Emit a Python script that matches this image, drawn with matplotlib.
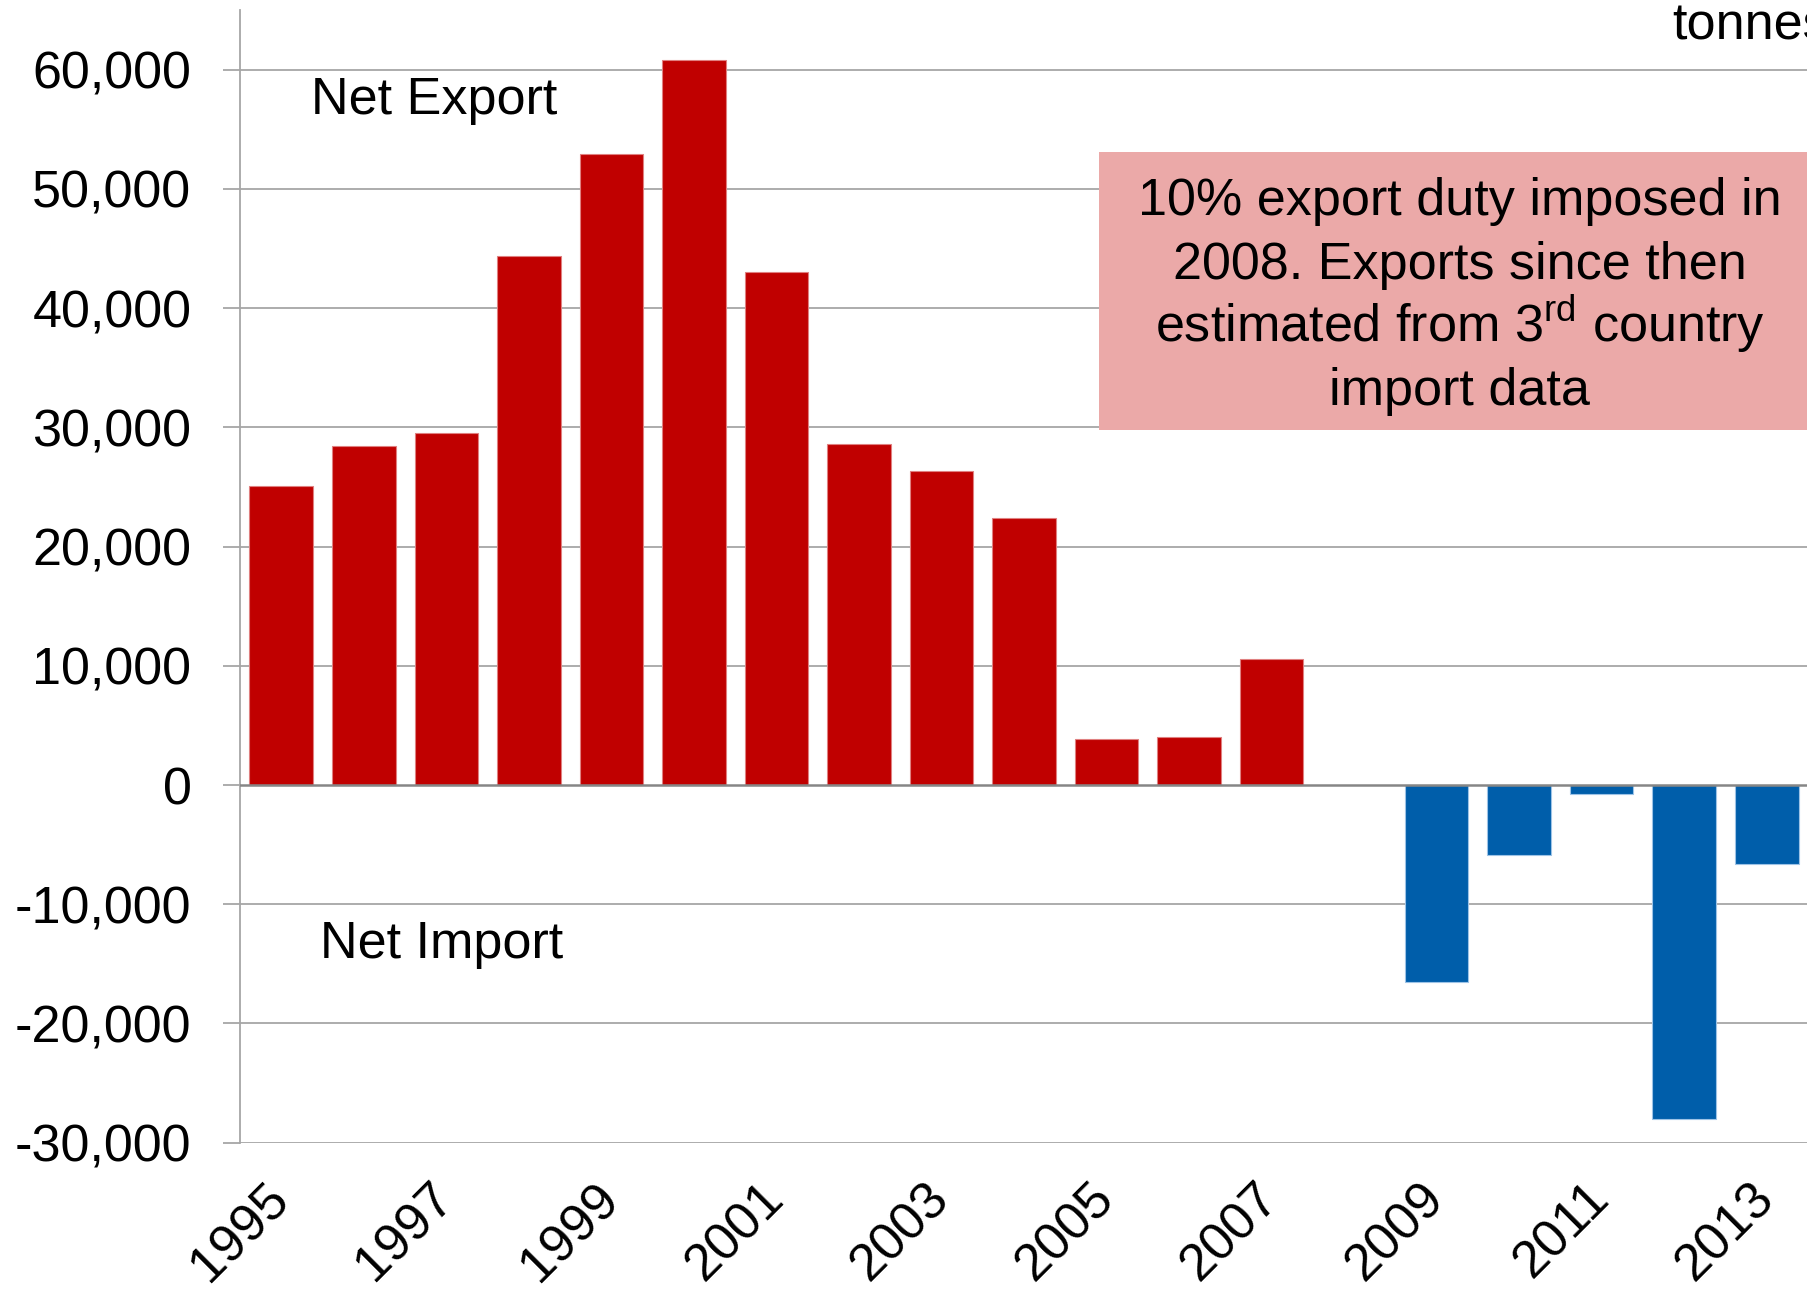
import numpy as np
import matplotlib
matplotlib.use("Agg")
import matplotlib.pyplot as plt
from matplotlib.patches import Rectangle
from matplotlib.ticker import FuncFormatter

plt.rcParams['font.family'] = ['Liberation Sans', 'DejaVu Sans']
plt.rcParams['mathtext.fontset'] = 'custom'
plt.rcParams['mathtext.rm'] = 'Liberation Sans'

# net trade in tonnes (2008 has no value)
years = list(range(1995, 2014))
net_trade = [25100, 28400, 29500, 44400, 52900, 60800, 43000, 28600, 26300,
             22400, 3900, 4050, 10550, np.nan, -16550, -5850, -760, -28000, -6600]
tick_years = [1995, 1997, 1999, 2001, 2003, 2005, 2007, 2009, 2011, 2013]
note_lines = ["10% export duty imposed in",
              "2008. Exports since then",
              "estimated from 3$^{\\mathrm{rd}}$ country",
              "import data"]

red = '#C00000'
blue = '#005EAA'
grid_col = '#A6A6A6'
fs = 37.5

fig = plt.figure(figsize=(18.08, 12.93), dpi=100)
ax = fig.add_axes([240 / 1808, 150.3 / 1293, 1 - 240 / 1808, (1283 - 150.3) / 1293])

x = np.arange(len(years))
vals = np.array(net_trade, dtype=float)
ok = np.isfinite(vals)
colors = [red if v > 0 else blue for v in vals[ok]]
edges = ['#E08080' if v > 0 else '#9DC3E6' for v in vals[ok]]
ax.bar(x[ok], vals[ok], width=0.77, color=colors, edgecolor=edges, linewidth=0.8, zorder=3)

ax.set_xlim(-0.5, 18.5)
ax.set_ylim(-30000, 65000)

# gridlines and zero line
yticks = list(range(-30000, 60001, 10000))
for g in yticks:
    if g != 0:
        ax.axhline(g, color=grid_col, lw=1.3, zorder=1)
ax.axhline(0, color='#868686', lw=1.8, zorder=4)

for s in ['top', 'right', 'bottom']:
    ax.spines[s].set_visible(False)
ax.spines['left'].set_color(grid_col)
ax.spines['left'].set_linewidth(1.3)

ax.set_yticks(yticks)
ax.yaxis.set_major_formatter(FuncFormatter(lambda v, p: f"{v:,.0f}"))
ax.tick_params(axis='y', length=12, width=1.3, color=grid_col, pad=23, labelsize=fs)

ax.set_xticks([years.index(y) for y in tick_years])
ax.set_xticklabels([str(y) for y in tick_years], rotation=45, ha='right',
                   va='center', rotation_mode='anchor', fontsize=fs)
ax.tick_params(axis='x', length=0, pad=35)

ax.text(0.36, 57400, "Net Export", fontsize=fs, ha='left', va='center')
ax.text(0.47, -13400, "Net Import", fontsize=fs, ha='left', va='center')

# note box, clipped by the right edge of the figure
ax.add_patch(Rectangle((9.91, 29760), 9.0, 23300, facecolor='#EBA9A8',
                       edgecolor='none', zorder=5))
for i, line in enumerate(note_lines):
    ax.text(14.28, 47784 - i * 5307, line, fontsize=fs, ha='center',
            va='baseline', zorder=6)

ax.text(16.85, 63700, "tonnes", fontsize=fs, ha='left', va='center', clip_on=False)

fig.savefig("out.png", dpi=100)
